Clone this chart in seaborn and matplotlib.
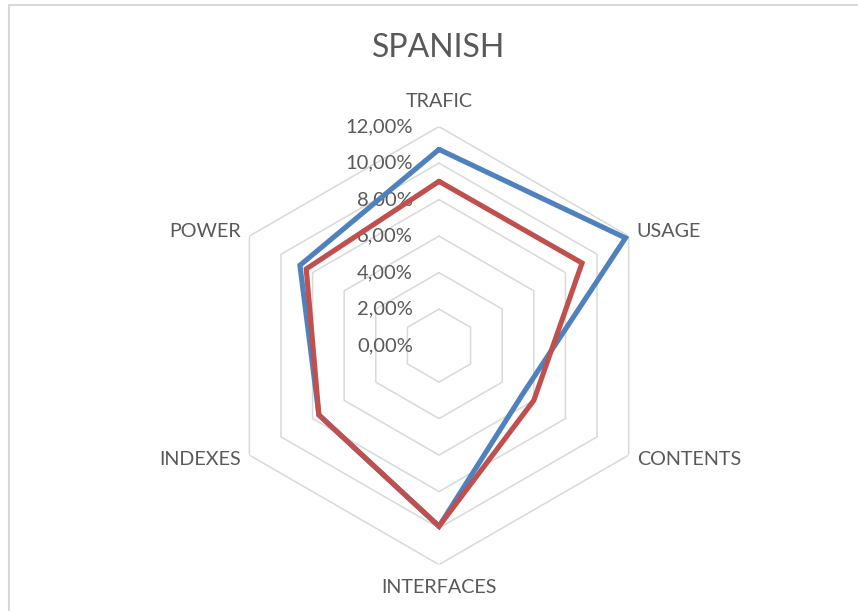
import numpy as np
import pandas as pd
import seaborn as sns
import matplotlib.pyplot as plt
from matplotlib import transforms
from matplotlib.patches import Rectangle

sns.set_theme(style="white")
plt.rcParams["font.family"] = ["Lato", "DejaVu Sans"]

# data -----------------------------------------------------------------------
categories = ["TRAFIC", "USAGE", "CONTENTS", "INTERFACES", "INDEXES", "POWER"]
serie1 = [10.75, 11.8, 5.3, 9.9, 7.6, 8.8]   # blue
serie2 = [9.0, 9.05, 6.0, 9.9, 7.6, 8.4]     # red
ticks = [0, 2, 4, 6, 8, 10, 12]
tick_labels = ["0,00%", "2,00%", "4,00%", "6,00%", "8,00%", "10,00%", "12,00%"]

BLUE, RED = "#4F81BD", "#C0504D"
GRID, TXT = "#D9D9D9", "#595959"

n = len(categories)
angles = np.arange(n) * 2 * np.pi / n
closed = np.append(angles, angles[0] + 2 * np.pi)

rows = []
for name, vals in [("Serie 1", serie1), ("Serie 2", serie2)]:
    for k, th in enumerate(closed):
        rows.append({"serie": name, "theta": th, "value": vals[k % n], "order": k})
df = pd.DataFrame(rows)

# figure -----------------------------------------------------------------------
W, H = 858, 611
fig = plt.figure(figsize=(W / 100, H / 100), dpi=100)
cx, cy, R = 439, 345.6, 219
ax = fig.add_axes([(cx - R) / W, (H - cy - R) / H, 2 * R / W, 2 * R / H],
                  projection="polar")
ax.set_theta_offset(np.pi / 2)
ax.set_theta_direction(-1)
ax.set_ylim(0, 12)
ax.grid(False)
ax.set_xticks([]); ax.set_yticks([])
ax.spines["polar"].set_visible(False)
ax.set_facecolor("none")

# hexagon rings
for t in ticks[1:]:
    ax.plot(closed, [t] * len(closed), color=GRID, lw=1.1, zorder=1)

sns.lineplot(data=df, x="theta", y="value", hue="serie", sort=False,
             estimator=None, units="serie", palette=[BLUE, RED],
             linewidth=3.7, legend=False, ax=ax, zorder=3)
ax.set_xlabel(""); ax.set_ylabel("")
for ln in ax.lines[-2:]:
    ln.set_solid_joinstyle("miter")

# tick labels
tr = transforms.offset_copy(ax.transData, fig=fig, x=-26, y=0, units="dots")
for t, lab in zip(ticks, tick_labels):
    ax.text(0, t, lab, transform=tr, ha="right", va="center",
            fontsize=14.5, color=TXT, zorder=2)

# category labels
offs = [(0, 25, "center"), (8, 5, "left"), (8, -4, "left"),
        (0, -23, "center"), (-8, -4, "right"), (-8, 5, "right")]
for th, lab, (dx, dy, ha) in zip(angles, categories, offs):
    t2 = transforms.offset_copy(ax.transData, fig=fig, x=dx, y=dy, units="dots")
    ax.text(th, 12, lab, transform=t2, ha=ha, va="center",
            fontsize=14.2, color=TXT)

fig.text(439 / W, 1 - 48 / H, "SPANISH", ha="center", va="center",
         fontsize=23, color=TXT)

fig.patches.append(Rectangle((8.5 / W, -0.05), 1.2, 1 - 4.5 / H + 0.05,
                             transform=fig.transFigure, fill=False,
                             edgecolor=GRID, lw=1.5))

fig.savefig("out.png", dpi=100)
